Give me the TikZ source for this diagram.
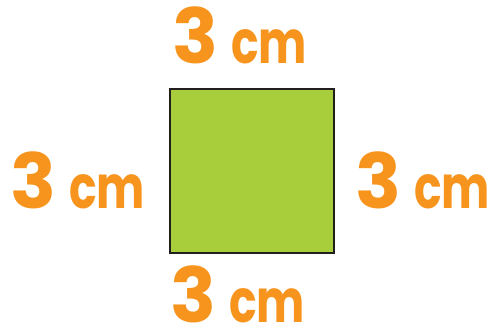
\documentclass[tikz,border=0pt]{standalone}
\usepackage{fontspec}
\usepackage{graphicx}
\newfontfamily\lblfont{Poppins}
\usetikzlibrary{positioning}
\definecolor{sqGreen}{HTML}{A8CE3B}
\definecolor{sqInk}{HTML}{231F20}
\definecolor{sqOrange}{HTML}{F7941D}

% one side length: big digit, smaller narrow unit
\newcommand{\sidelen}{%
  {\fontsize{76}{76}\selectfont 3}\hspace{13pt}%
  {\fontsize{60}{60}\selectfont\scalebox{0.76}[1]{cm}}}

\begin{document}
\begin{tikzpicture}[
  x=1pt, y=-1pt,
  side/.style={fill=sqGreen, draw=sqInk, line width=2.5pt},
  len/.style={font=\lblfont\bfseries, text=sqOrange, inner sep=0pt, anchor=base west},
]
\useasboundingbox (0,0) rectangle (492,332);

% the square
\draw[side] (170,89) rectangle (334,253);
\node[inner sep=0pt, minimum size=164pt] (sq) at (252,171) {};

% its four sides
\node[len] (top)    at (172,63)  {\sidelen};
\node[len] (left)   at (10,208)  {\sidelen};
\node[len] (right)  at (355,208) {\sidelen};
\node[len] (bottom) at (170,322) {\sidelen};
\end{tikzpicture}
\end{document}
